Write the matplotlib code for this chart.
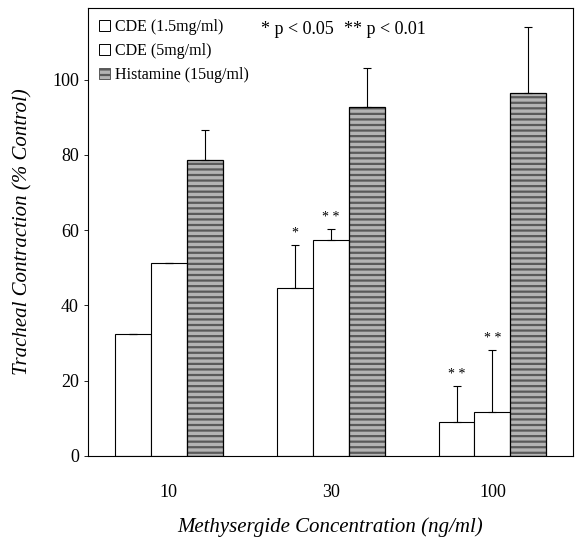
import numpy as np
import matplotlib
matplotlib.use("Agg")
import matplotlib.pyplot as plt
from matplotlib.patches import Patch

plt.rcParams['font.family'] = ['Liberation Serif', 'DejaVu Serif']
plt.rcParams['hatch.linewidth'] = 1.6

groups = ['10', '30', '100']
series_names = ['CDE (1.5mg/ml)', 'CDE (5mg/ml)', 'Histamine (15ug/ml)']
cde_low = [32.4, 44.6, 9.0]
cde_low_err = [0.0, 11.4, 9.5]
cde_high = [51.2, 57.5, 11.7]
cde_high_err = [0.0, 2.7, 16.3]
histamine = [78.5, 92.8, 96.5]
histamine_err = [8.0, 10.2, 17.5]
stars_low = ['', '*', '* *']
stars_high = ['', '* *', '* *']

fig = plt.figure(figsize=(5.78, 5.42), dpi=100)
ax = fig.add_axes([0.152, 0.159, 0.840, 0.826])

x = np.arange(len(groups))
w = 0.222

err_kw = dict(ecolor='black', elinewidth=0.8, capsize=3, capthick=0.8)

ax.bar(x - w, cde_low, w, color='white', edgecolor='black', linewidth=0.8,
       yerr=[np.zeros(3), cde_low_err], error_kw=err_kw)
ax.bar(x, cde_high, w, color='white', edgecolor='black', linewidth=0.8,
       yerr=[np.zeros(3), cde_high_err], error_kw=err_kw)
# histamine: gray fill with dark horizontal hatch, then black outline on top
ax.bar(x + w, histamine, w, color='#b4b4b4', edgecolor='#5a5a5a', hatch='---', linewidth=0)
ax.bar(x + w, histamine, w, color='none', edgecolor='black', linewidth=0.9,
       yerr=[np.zeros(3), histamine_err], error_kw=err_kw)

for i in range(len(groups)):
    if stars_low[i]:
        ax.text(x[i] - w, cde_low[i] + cde_low_err[i] + 1.5, stars_low[i],
                ha='center', va='bottom', fontsize=10)
    if stars_high[i]:
        ax.text(x[i], cde_high[i] + cde_high_err[i] + 1.5, stars_high[i],
                ha='center', va='bottom', fontsize=10)

ax.set_xlim(-0.5, 2.5)
ax.set_ylim(0, 119)
ax.set_xticks(x)
ax.set_xticklabels(groups, fontsize=13)
ax.set_yticks([0, 20, 40, 60, 80, 100])
ax.tick_params(axis='y', labelsize=13, length=3, width=0.6)
ax.tick_params(axis='x', length=0, pad=20)
for s in ax.spines.values():
    s.set_linewidth(0.8)

ax.set_ylabel('Tracheal Contraction (% Control)', fontsize=15, style='italic', labelpad=14)
ax.set_xlabel('Methysergide Concentration (ng/ml)', fontsize=15, style='italic', labelpad=12)

handles = [Patch(facecolor='white', edgecolor='black', linewidth=0.7),
           Patch(facecolor='white', edgecolor='black', linewidth=0.7),
           Patch(facecolor='#b4b4b4', edgecolor='#5a5a5a', hatch='---', linewidth=0.7)]
ax.legend(handles, series_names, loc='upper left', frameon=False, fontsize=11.5,
          handlelength=0.7, handleheight=0.7, handletextpad=0.3, labelspacing=0.5,
          borderaxespad=0.3, bbox_to_anchor=(0.0, 1.0))

ax.text(0.357, 0.953, '* p < 0.05', transform=ax.transAxes, fontsize=13, va='center')
ax.text(0.528, 0.953, '** p < 0.01', transform=ax.transAxes, fontsize=13, va='center')

fig.savefig('out.png', dpi=100)
